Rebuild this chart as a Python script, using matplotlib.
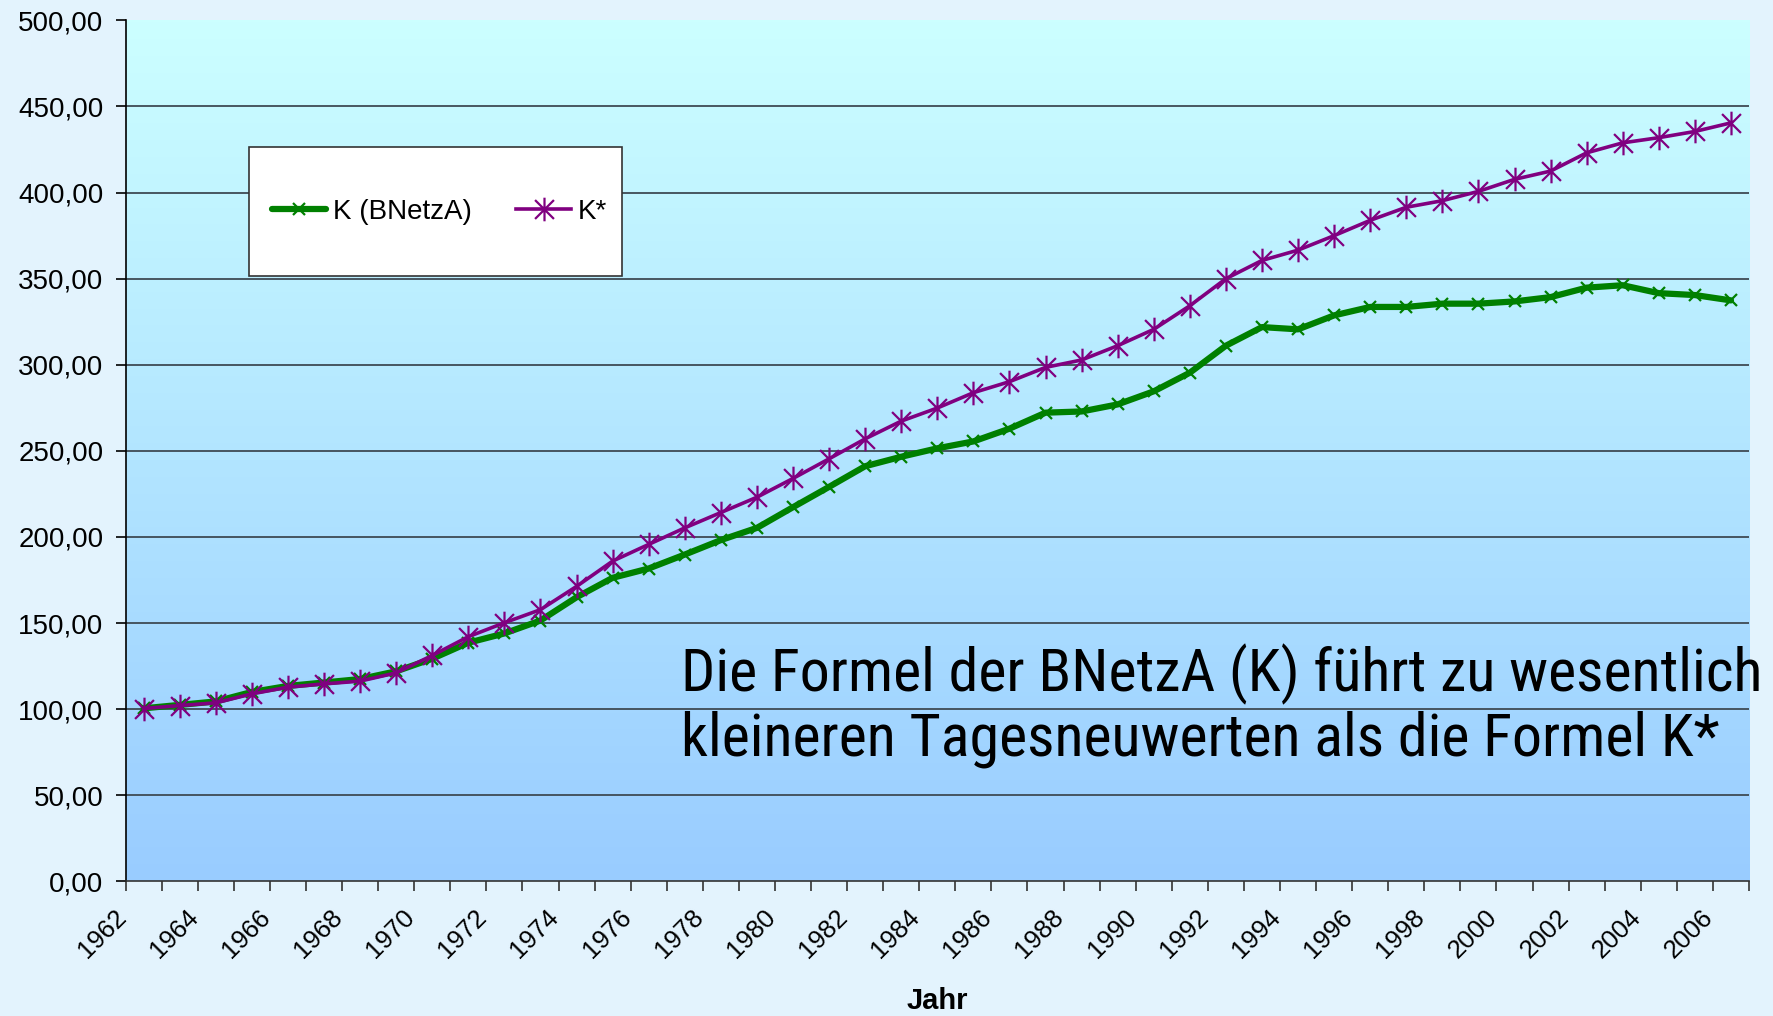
import matplotlib
matplotlib.use("Agg")
import matplotlib.pyplot as plt
import numpy as np
from matplotlib.path import Path
from matplotlib.patches import Rectangle
from matplotlib.colors import LinearSegmentedColormap
from matplotlib import font_manager
from matplotlib.transforms import ScaledTranslation

# ---------------- data ----------------
years = [1962, 1963, 1964, 1965, 1966, 1967, 1968, 1969, 1970, 1971,
         1972, 1973, 1974, 1975, 1976, 1977, 1978, 1979, 1980, 1981,
         1982, 1983, 1984, 1985, 1986, 1987, 1988, 1989, 1990, 1991,
         1992, 1993, 1994, 1995, 1996, 1997, 1998, 1999, 2000, 2001,
         2002, 2003, 2004, 2005, 2006]

k_bnetza = [100.5, 102.5, 104.5, 110.0, 113.5, 115.5, 117.5, 122.0, 129.3, 138.6,
            144.0, 151.5, 165.0, 176.3, 181.7, 189.8, 198.2, 205.3, 217.3, 229.1,
            241.1, 246.6, 251.5, 255.5, 262.9, 272.2, 272.9, 277.0, 284.6, 295.4,
            311.1, 321.9, 320.6, 328.7, 333.6, 333.6, 335.5, 335.5, 336.8, 339.3,
            344.8, 346.2, 341.6, 340.5, 337.4]

k_star = [100.4, 102.1, 103.7, 108.9, 112.8, 114.7, 116.3, 121.1, 131.2, 142.1,
          150.2, 157.8, 171.3, 186.0, 195.7, 205.3, 214.2, 223.1, 234.0, 245.4,
          257.0, 267.3, 274.9, 283.8, 290.2, 298.5, 302.8, 311.1, 320.6, 334.3,
          350.0, 360.6, 366.6, 375.0, 383.9, 391.5, 395.3, 400.7, 407.7, 412.5,
          423.1, 428.9, 431.9, 435.5, 440.5]

series_labels = ["K (BNetzA)", "K*"]
y_ticks = [0, 50, 100, 150, 200, 250, 300, 350, 400, 450, 500]
y_tick_labels = ["0,00", "50,00", "100,00", "150,00", "200,00", "250,00",
                 "300,00", "350,00", "400,00", "450,00", "500,00"]
x_label = "Jahr"
note_lines = ["Die Formel der BNetzA (K) führt zu wesentlich",
              "kleineren Tagesneuwerten als die Formel K*"]

# ---------------- style ----------------
W, H, DPI = 1774, 1016, 100
fig = plt.figure(figsize=(W / DPI, H / DPI), dpi=DPI)
fig.patch.set_facecolor("#E3F3FD")

BASE = ["Liberation Sans", "DejaVu Sans"]
plt.rcParams["font.family"] = BASE


def has_font(name):
    try:
        font_manager.findfont(font_manager.FontProperties(family=name),
                              fallback_to_default=False)
        return True
    except Exception:
        return False


note_family = None
for cand in ["Liberation Sans Narrow", "DejaVu Sans Condensed", "Roboto Condensed",
             "Open Sans Condensed", "Liberation Sans"]:
    if has_font(cand):
        note_family = cand
        break
if note_family is None:
    note_family = "DejaVu Sans"

# plot area in pixels
L, R, T, B = 125.6, 1749.0, 20.4, 881.4
ax = fig.add_axes([L / W, 1 - B / H, (R - L) / W, (B - T) / H])
ax.set_facecolor("none")

n = len(years)
xpos = np.arange(n) + 0.5

# gradient background
cmap = LinearSegmentedColormap.from_list("bg", ["#CCFFFF", "#99CCFF"])
ax.imshow(np.linspace(0, 1, 256).reshape(-1, 1), cmap=cmap,
          extent=[0, n, 0, 500], aspect="auto", origin="upper", zorder=0)
ax.set_xlim(0, n)
ax.set_ylim(0, 500)

# gridlines
ax.set_yticks(y_ticks)
ax.set_yticklabels(y_tick_labels, fontsize=20)
ax.yaxis.grid(True, color="#3e4a54", linewidth=1.3, zorder=1)
ax.set_axisbelow(True)
gl = ax.get_ygridlines()
gl[0].set_visible(False)
gl[-1].set_visible(False)

ax.tick_params(axis="y", direction="out", length=7, width=1.2, pad=9, colors="black")

# x ticks: major at category boundaries, labels on every other category
ax.set_xticks(np.arange(n + 1))
ax.set_xticklabels([])
ax.set_xticks(xpos[::2], minor=True)
ax.set_xticklabels([str(y) for y in years[::2]], minor=True, fontsize=18.5,
                   rotation=45, ha="right", va="top")
ax.tick_params(axis="x", which="major", direction="out", length=7, width=1.2,
               color="#333333")
ax.tick_params(axis="x", which="minor", length=0, pad=17)
shift = ScaledTranslation(-13 / DPI, 0, fig.dpi_scale_trans)
for lab in ax.get_xticklabels(minor=True):
    lab.set_transform(lab.get_transform() + shift)

for s in ["top", "right"]:
    ax.spines[s].set_visible(False)
ax.spines["left"].set_color("black")
ax.spines["left"].set_linewidth(1.2)
ax.spines["bottom"].set_color("#333333")
ax.spines["bottom"].set_linewidth(1.2)

# asterisk marker (x plus vertical bar) like Excel's star marker
star = Path([(0, -1), (0, 1), (-0.8, -0.8), (0.8, 0.8), (-0.8, 0.8), (0.8, -0.8)],
            [Path.MOVETO, Path.LINETO, Path.MOVETO, Path.LINETO, Path.MOVETO, Path.LINETO])

GREEN = "#008000"
PURPLE = "#800080"
ax.plot(xpos, k_bnetza, color=GREEN, linewidth=4.5, marker="x", markersize=8,
        markeredgewidth=1.6, label=series_labels[0], zorder=3,
        solid_joinstyle="round", solid_capstyle="round")
ax.plot(xpos, k_star, color=PURPLE, linewidth=2.6, marker=star, markersize=17,
        markeredgewidth=1.6, markerfacecolor="none", label=series_labels[1], zorder=4,
        solid_joinstyle="round")


def ax_frac_x(px):
    return (px - L) / (R - L)


def ax_frac_y(py):
    return (B - py) / (B - T)


# legend box
rect = Rectangle((ax_frac_x(249), ax_frac_y(276)), ax_frac_x(622) - ax_frac_x(249),
                 ax_frac_y(147) - ax_frac_y(276), transform=ax.transAxes,
                 facecolor="white", edgecolor="#333333", linewidth=1.2, zorder=5)
ax.add_patch(rect)
leg = ax.legend(loc="center left", bbox_to_anchor=(ax_frac_x(272), ax_frac_y(212)),
                ncol=2, frameon=False, fontsize=20, borderpad=0, handlelength=1.95,
                handletextpad=0.25, columnspacing=1.6, borderaxespad=0)
leg.set_zorder(6)

# axis label
fig.text((L + R) / 2 / W, 1 - 1001 / H, x_label, ha="center", va="center",
         fontsize=21, fontweight="bold")

# annotation
t1 = fig.text(681 / W, 1 - 691 / H, note_lines[0], ha="left", va="baseline",
              fontsize=42, family=[note_family, "DejaVu Sans"], color="black")
t2 = fig.text(681 / W, 1 - 756 / H, note_lines[1], ha="left", va="baseline",
              fontsize=42, family=[note_family, "DejaVu Sans"], color="black")
renderer = fig.canvas.get_renderer()
w = t1.get_window_extent(renderer).width
fs = 42 * 1084.0 / w
t1.set_fontsize(fs)
t2.set_fontsize(fs)

fig.savefig("out.png", dpi=DPI, facecolor=fig.get_facecolor())
